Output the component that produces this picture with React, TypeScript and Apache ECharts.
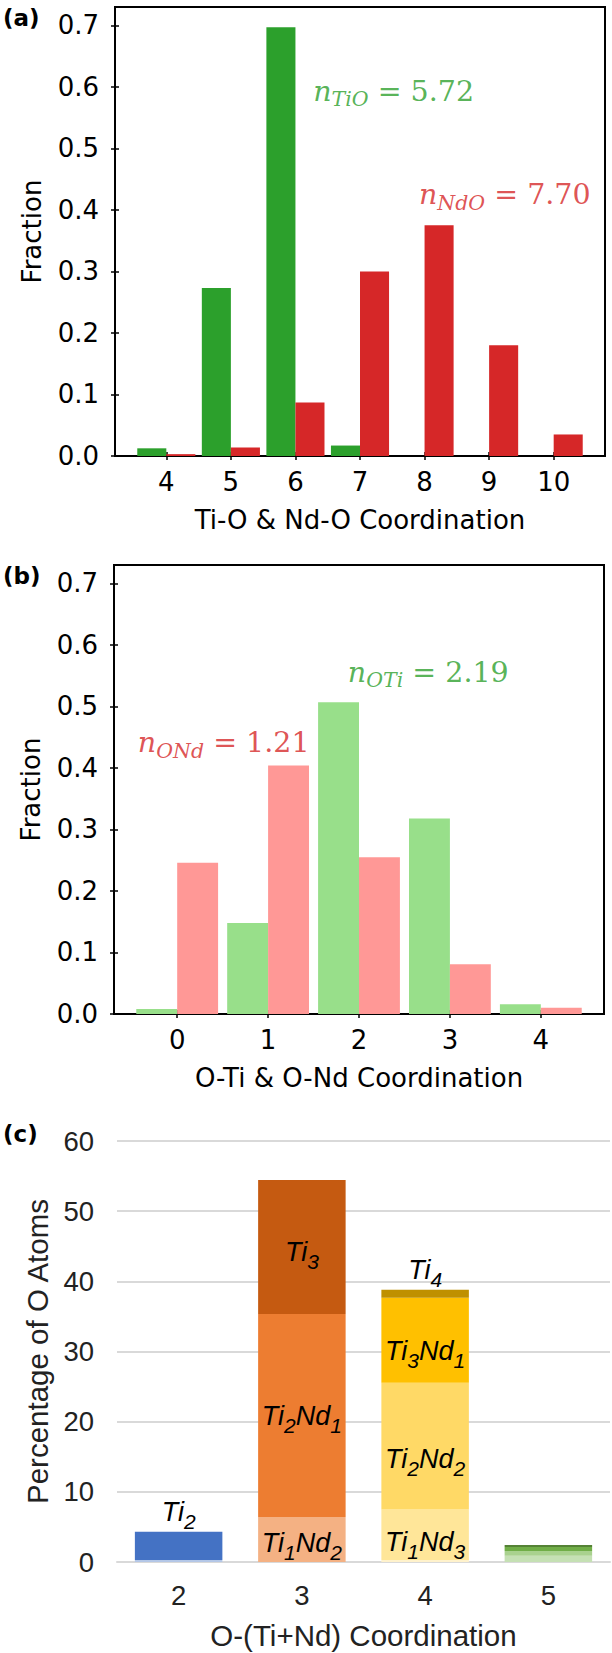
import React, { useEffect, useRef } from 'react';
import * as echarts from 'echarts';

// ---------- Panel (a): Ti-O & Nd-O coordination ----------
const A_COORD = [4, 5, 6, 7, 8, 9, 10];
const A_TIO = [0.0125, 0.273, 0.697, 0.017, 0, 0, 0];
const A_NDO = [0.003, 0.014, 0.087, 0.3, 0.375, 0.18, 0.035];
const A_NOTE_TIO = ['TiO', '5.72'];
const A_NOTE_NDO = ['NdO', '7.70'];

// ---------- Panel (b): O-Ti & O-Nd coordination ----------
const B_COORD = [0, 1, 2, 3, 4];
const B_OTI = [0.008, 0.148, 0.507, 0.318, 0.016];
const B_OND = [0.246, 0.404, 0.255, 0.081, 0.01];
const B_NOTE_OTI = ['OTi', '2.19'];
const B_NOTE_OND = ['ONd', '1.21'];

const FRACTION_TICKS = [0, 0.1, 0.2, 0.3, 0.4, 0.5, 0.6, 0.7];

// ---------- Panel (c): O-(Ti+Nd) coordination, % of O atoms ----------
const C_CATS = ['2', '3', '4', '5'];
const C_TI1ND1 = [0.3, null, null, null];
const C_TI2 = [4.0, null, null, null];
const C_TI1ND2 = [null, 6.4, null, null];
const C_TI2ND1 = [null, 28.95, null, null];
const C_TI3 = [null, 19.1, null, null];
const C_ND4 = [null, null, 0.3, null];
const C_TI1ND3 = [null, null, 7.2, null];
const C_TI2ND2 = [null, null, 18.05, null];
const C_TI3ND1 = [null, null, 12.1, null];
const C_TI4 = [null, null, 1.15, null];
const C_TI1ND4 = [null, null, null, 0.9];
const C_TI2ND3 = [null, null, null, 0.66];
const C_TI3ND2 = [null, null, null, 0.58];
const C_TI4ND1 = [null, null, null, 0.29];

// annotation anchors (data coordinates) for the n = ... labels
const A_NOTE_POS = [[6.267, 0.593], [7.905, 0.425]];
const B_NOTE_POS = [[1.872, 0.556], [-0.438, 0.441]];

const W = 612;
const H = 1653;
const GA = { left: 115, top: 7, width: 490, height: 449 };
const GB = { left: 114, top: 565, width: 490, height: 449 };
const GC = { left: 117, top: 1141, width: 493, height: 421 };
const A_RANGE = [3.205, 10.795];
const B_RANGE = [-0.695, 4.695];
const Y_MAX = 0.73;
const BAR_W = 0.45;

const GREEN = '#2ca02c';
const RED = '#d62728';
const LGREEN = '#98df8a';
const LRED = '#ff9896';

const SANS = 'DejaVu Sans';
const SERIF = 'DejaVu Serif';
const XL = 'Liberation Sans';

function noteRich(color: string) {
  return {
    n: { fontFamily: SERIF, fontStyle: 'italic', fontSize: 28.5, lineHeight: 36, color },
    s: { fontFamily: SERIF, fontStyle: 'italic', fontSize: 20.5, lineHeight: 20, verticalAlign: 'bottom', color },
    e: { fontFamily: SERIF, fontSize: 28.5, lineHeight: 36, color },
  };
}

function noteSeries(axisIdx: number, pos: number[], parts: string[], color: string) {
  return {
    type: 'scatter',
    xAxisIndex: axisIdx,
    yAxisIndex: axisIdx,
    symbolSize: 1,
    silent: true,
    z: 10,
    itemStyle: { color: 'rgba(0,0,0,0)' },
    data: [pos],
    label: {
      show: true,
      position: 'right',
      distance: 0,
      align: 'left',
      verticalAlign: 'middle',
      formatter: `{n|n}{s|${parts[0]}}{e| = ${parts[1]}}`,
      rich: noteRich(color),
    },
  };
}

function fracAxes(gridIndex: number, range: number[], ticks: number[], xName: string) {
  const tickStyle = { color: '#000', width: 1.5 };
  const labelStyle = { fontFamily: SANS, fontSize: 26, color: '#000' };
  const nameStyle = { fontFamily: SANS, fontSize: 26, color: '#000' };
  const xs = [
    {
      type: 'value', gridIndex, min: range[0], max: range[1], position: 'bottom',
      axisLine: { show: true, onZero: false, lineStyle: { color: '#000', width: 2 } },
      axisTick: { show: true, length: 4, customValues: ticks, lineStyle: tickStyle },
      axisLabel: { show: true, customValues: ticks, margin: 13, ...labelStyle },
      splitLine: { show: false },
      name: xName, nameLocation: 'middle', nameGap: 51, nameTextStyle: nameStyle,
    },
    {
      type: 'value', gridIndex, min: range[0], max: range[1], position: 'bottom',
      axisLine: { show: false, onZero: false },
      axisTick: { show: true, inside: true, length: 4, customValues: ticks, lineStyle: tickStyle },
      axisLabel: { show: false },
      splitLine: { show: false },
    },
  ];
  const ys = [
    {
      type: 'value', gridIndex, min: 0, max: Y_MAX, position: 'left',
      axisLine: { show: true, onZero: false, lineStyle: { color: '#000', width: 2 } },
      axisTick: { show: true, length: 4, customValues: FRACTION_TICKS, lineStyle: tickStyle },
      axisLabel: {
        show: true, customValues: FRACTION_TICKS, margin: 16,
        formatter: (v: number) => v.toFixed(1), ...labelStyle,
      },
      splitLine: { show: false },
      name: 'Fraction', nameLocation: 'middle', nameGap: 70, nameRotate: 90, nameTextStyle: nameStyle,
    },
    {
      type: 'value', gridIndex, min: 0, max: Y_MAX, position: 'left',
      axisLine: { show: false, onZero: false },
      axisTick: { show: true, inside: true, length: 4, customValues: FRACTION_TICKS, lineStyle: tickStyle },
      axisLabel: { show: false },
      splitLine: { show: false },
    },
  ];
  return { xs, ys };
}

function pairs(xs: number[], ys: number[]) {
  return xs.map((x, i) => [x, ys[i]]);
}

const cRich = {
  m: { fontFamily: XL, fontStyle: 'italic', fontSize: 27, lineHeight: 40, color: '#000' },
  s: { fontFamily: XL, fontStyle: 'italic', fontSize: 21, lineHeight: 23, verticalAlign: 'bottom', color: '#000' },
};

function cSeries(name: string, data: (number | null)[], color: string, label?: string, pos?: string, dy?: number) {
  return {
    type: 'bar',
    name,
    xAxisIndex: 4,
    yAxisIndex: 4,
    stack: 'c',
    barCategoryGap: '29%',
    data,
    itemStyle: { color },
    label: label
      ? {
          show: true,
          position: pos || 'inside',
          distance: 0,
          offset: [0, dy || 0],
          formatter: label,
          rich: cRich,
        }
      : { show: false },
  };
}

export default function App() {
  const ref = useRef<HTMLDivElement>(null);
  useEffect(() => {
    document.body.style.margin = '0';
    if (!ref.current) return;
    const chart = echarts.init(ref.current, undefined, { renderer: 'svg', width: W, height: H });

    const a = fracAxes(0, A_RANGE, A_COORD, 'Ti-O & Nd-O Coordination');
    const b = fracAxes(1, B_RANGE, B_COORD, 'O-Ti & O-Nd Coordination');
    const wA = (BAR_W * GA.width) / (A_RANGE[1] - A_RANGE[0]);
    const wB = (BAR_W * GB.width) / (B_RANGE[1] - B_RANGE[0]);

    const cLabelText = { fontFamily: XL, fontSize: 27.5, color: '#222' };
    const cName = { fontFamily: XL, fontSize: 29.5, color: '#222' };
    const panelTag = { fontFamily: SANS, fontWeight: 'bold', fontSize: 23, fill: '#000', verticalAlign: 'middle' };

    const option: any = {
      animation: false,
      backgroundColor: '#fff',
      grid: [
        { ...GA, show: true, borderColor: '#000', borderWidth: 2, containLabel: false },
        { ...GB, show: true, borderColor: '#000', borderWidth: 2, containLabel: false },
        { ...GC, show: false, containLabel: false },
      ],
      xAxis: [
        ...a.xs,
        ...b.xs,
        {
          type: 'category', gridIndex: 2, data: C_CATS, position: 'bottom',
          axisLine: { show: true, lineStyle: { color: '#d9d9d9', width: 2 } },
          axisTick: { show: false },
          axisLabel: { margin: 19, ...cLabelText },
          name: 'O-(Ti+Nd) Coordination', nameLocation: 'middle', nameGap: 58, nameTextStyle: cName,
        },
      ],
      yAxis: [
        ...a.ys,
        ...b.ys,
        {
          type: 'value', gridIndex: 2, min: 0, max: 60, interval: 10,
          axisLine: { show: false },
          axisTick: { show: false },
          axisLabel: { margin: 23, ...cLabelText },
          splitLine: { show: true, lineStyle: { color: '#d9d9d9', width: 2 } },
          name: 'Percentage of O Atoms', nameLocation: 'middle', nameGap: 62, nameRotate: 90, nameTextStyle: cName,
        },
      ],
      series: [
        { type: 'bar', xAxisIndex: 0, yAxisIndex: 0, barWidth: wA, barGap: '0%', data: pairs(A_COORD, A_TIO), itemStyle: { color: GREEN } },
        { type: 'bar', xAxisIndex: 0, yAxisIndex: 0, barWidth: wA, barGap: '0%', data: pairs(A_COORD, A_NDO), itemStyle: { color: RED } },
        noteSeries(0, A_NOTE_POS[0], A_NOTE_TIO, GREEN),
        noteSeries(0, A_NOTE_POS[1], A_NOTE_NDO, RED),
        { type: 'bar', xAxisIndex: 2, yAxisIndex: 2, barWidth: wB, barGap: '0%', data: pairs(B_COORD, B_OTI), itemStyle: { color: LGREEN } },
        { type: 'bar', xAxisIndex: 2, yAxisIndex: 2, barWidth: wB, barGap: '0%', data: pairs(B_COORD, B_OND), itemStyle: { color: LRED } },
        noteSeries(2, B_NOTE_POS[0], B_NOTE_OTI, GREEN),
        noteSeries(2, B_NOTE_POS[1], B_NOTE_OND, RED),
        cSeries('Ti1Nd1', C_TI1ND1, '#b4c7e7'),
        cSeries('Ti2', C_TI2, '#4472c4', '{m|Ti}{s|2}', 'top', 0),
        cSeries('Ti1Nd2', C_TI1ND2, '#f4b183', '{m|Ti}{s|1}{m|Nd}{s|2}', 'inside', 3),
        cSeries('Ti2Nd1', C_TI2ND1, '#ed7d31', '{m|Ti}{s|2}{m|Nd}{s|1}', 'inside', 0),
        cSeries('Ti3', C_TI3, '#c55a11', '{m|Ti}{s|3}', 'inside', 5),
        cSeries('Nd4', C_ND4, '#fff2cc'),
        cSeries('Ti1Nd3', C_TI1ND3, '#ffe699', '{m|Ti}{s|1}{m|Nd}{s|3}', 'inside', 7),
        cSeries('Ti2Nd2', C_TI2ND2, '#ffd966', '{m|Ti}{s|2}{m|Nd}{s|2}', 'inside', 13),
        cSeries('Ti3Nd1', C_TI3ND1, '#ffc000', '{m|Ti}{s|3}{m|Nd}{s|1}', 'inside', 11),
        cSeries('Ti4', C_TI4, '#bf9000', '{m|Ti}{s|4}', 'top', 0),
        cSeries('Ti1Nd4', C_TI1ND4, '#c5e0b4'),
        cSeries('Ti2Nd3', C_TI2ND3, '#a9d18e'),
        cSeries('Ti3Nd2', C_TI3ND2, '#70ad47'),
        cSeries('Ti4Nd1', C_TI4ND1, '#548235'),
      ],
      graphic: [
        { type: 'text', x: 3, y: 18, style: { text: '(a)', ...panelTag } },
        { type: 'text', x: 3, y: 576, style: { text: '(b)', ...panelTag } },
        { type: 'text', x: 3, y: 1134, style: { text: '(c)', ...panelTag } },
      ],
    };
    chart.setOption(option);
    return () => chart.dispose();
  }, []);
  return <div ref={ref} style={{ width: W, height: H }} />;
}
